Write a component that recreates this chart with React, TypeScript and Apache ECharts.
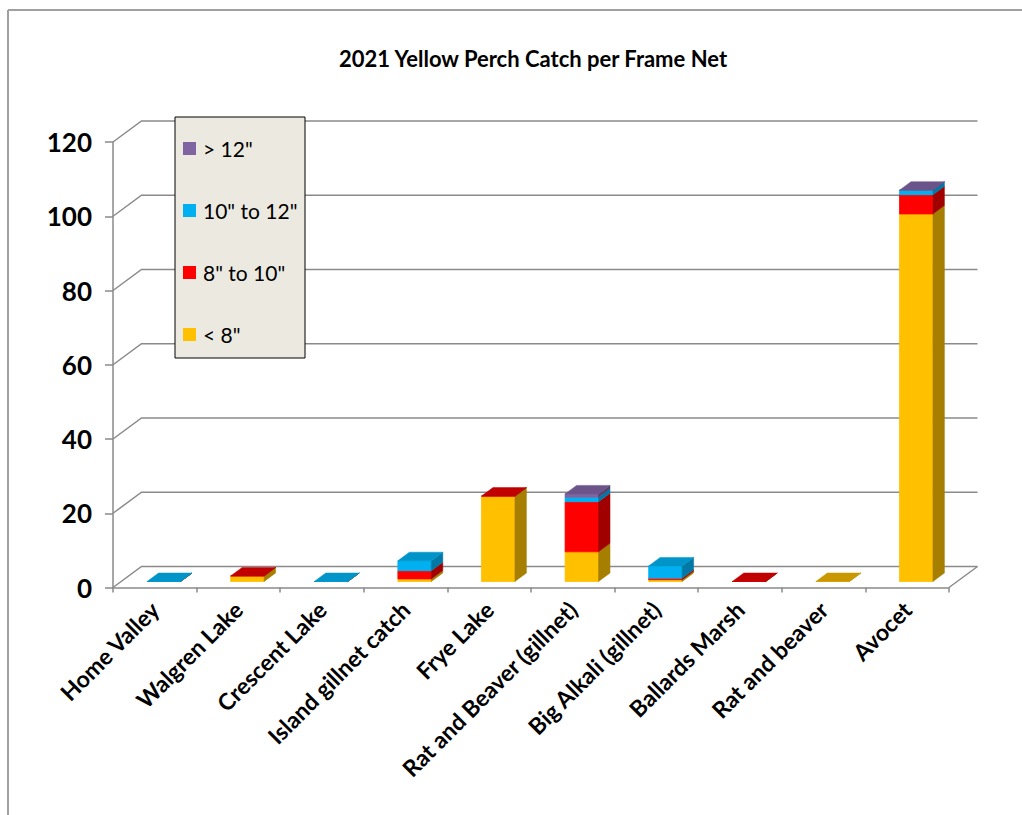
import React, { useEffect, useRef } from 'react';
import * as echarts from 'echarts';

const categories = [
  'Home Valley',
  'Walgren Lake',
  'Crescent Lake',
  'Island gillnet catch',
  'Frye Lake',
  'Rat and Beaver (gillnet)',
  'Big Alkali (gillnet)',
  'Ballards Marsh',
  'Rat and beaver',
  'Avocet',
];
const seriesNames = ['< 8"', '8" to 10"', '10" to 12"', '> 12"'];
const under8 = [0, 1.5, 0, 0.7, 23, 8, 0.5, 0, 0, 99];
const from8to10 = [0, 0, 0, 2.2, 0, 13.5, 0.4, 0, null, 5.2];
const from10to12 = [0, null, 0, 2.7, null, 1.2, 3.3, null, null, 1.2];
const over12 = [null, null, null, null, null, 0.9, null, null, null, 0];
const yTicks = [0, 20, 40, 60, 80, 100, 120];
const legendOrder = ['> 12"', '10" to 12"', '8" to 10"', '< 8"'];

const FONT = 'Lato, "Open Sans", sans-serif';
const GRID_COLOR = '#8a8a8a';
const BACK_DX = 28.5;
const BACK_DY = 21;
const FACE_DX = 9;
const FACE_DY = 6;
const DEPTH_DX = 11.5;
const DEPTH_DY = 8.5;

const palette = [
  { front: '#FFC000', top: '#C99800', side: '#A67E00' },
  { front: '#FF0000', top: '#C00000', side: '#A00000' },
  { front: '#00B0F0', top: '#0094C8', side: '#0079A6' },
  { front: '#8064A2', top: '#6B548A', side: '#54426D' },
];

const allSeries: (number | null)[][] = [under8, from8to10, from10to12, over12];

function buildStack(k: number) {
  const out: number[][] = [];
  for (let i = 0; i < categories.length; i++) {
    const v = allSeries[k][i];
    if (v === null || v === undefined) continue;
    let base = 0;
    for (let j = 0; j < k; j++) {
      const w = allSeries[j][i];
      if (w !== null && w !== undefined) base += w;
    }
    let isTop = 1;
    for (let j = k + 1; j < allSeries.length; j++) {
      const w = allSeries[j][i];
      if (w !== null && w !== undefined) isTop = 0;
    }
    out.push([i, base, base + v, isTop]);
  }
  return out;
}

export default function App() {
  const ref = useRef<HTMLDivElement>(null);
  useEffect(() => {
    if (!ref.current) return;
    const chart = echarts.init(ref.current, null, { renderer: 'svg' });

    const frameSeries: any = {
      type: 'custom',
      name: 'frame',
      silent: true,
      z: 1,
      data: yTicks.map((v) => [0, v]),
      encode: { x: 0, y: 1 },
      renderItem: (params: any, api: any) => {
        const v = api.value(1);
        const p = api.coord([0, v]);
        const band = api.size([1, 0])[0];
        const left = p[0] - band / 2;
        const right = left + band * categories.length;
        const y = p[1];
        const style = { stroke: GRID_COLOR, lineWidth: 1.5, fill: 'none' };
        const children: any[] = [
          {
            type: 'polyline',
            shape: {
              points: [
                [left, y],
                [left + BACK_DX, y - BACK_DY],
                [right + BACK_DX, y - BACK_DY],
              ],
            },
            style,
          },
        ];
        if (v === 0) {
          children.push({
            type: 'line',
            shape: { x1: right, y1: y, x2: right + BACK_DX, y2: y - BACK_DY },
            style,
          });
        }
        return { type: 'group', children };
      },
    };

    const barSeries = seriesNames.map((name, k) => ({
      type: 'custom',
      name,
      z: 2 + k,
      itemStyle: { color: palette[k].front },
      dimensions: ['x', 'y0', 'y1', 'top'],
      encode: { x: 0, y: [1, 2] },
      data: buildStack(k),
      renderItem: (params: any, api: any) => {
        const i = api.value(0);
        const y0 = api.value(1);
        const y1 = api.value(2);
        const isTop = api.value(3);
        const pb = api.coord([i, y0]);
        const pt = api.coord([i, y1]);
        const band = api.size([1, 0])[0];
        const w = band * 0.4;
        const xl = pb[0] - w / 2 + FACE_DX;
        const xr = xl + w;
        const yb = pb[1] - FACE_DY;
        const yt = pt[1] - FACE_DY;
        const c = palette[k];
        const children: any[] = [
          {
            type: 'rect',
            shape: { x: xl, y: yt, width: w, height: yb - yt },
            style: { fill: c.front, stroke: c.front, lineWidth: 0.8 },
          },
          {
            type: 'polygon',
            shape: {
              points: [
                [xr, yb],
                [xr + DEPTH_DX, yb - DEPTH_DY],
                [xr + DEPTH_DX, yt - DEPTH_DY],
                [xr, yt],
              ],
            },
            style: { fill: c.side, stroke: c.side, lineWidth: 0.5 },
          },
        ];
        if (isTop) {
          children.push({
            type: 'polygon',
            shape: {
              points: [
                [xl, yt],
                [xr, yt],
                [xr + DEPTH_DX, yt - DEPTH_DY],
                [xl + DEPTH_DX, yt - DEPTH_DY],
              ],
            },
            style: { fill: c.top, stroke: c.top, lineWidth: 0.5 },
          });
        }
        return { type: 'group', children };
      },
    }));

    chart.setOption({
      animation: false,
      backgroundColor: '#ffffff',
      title: {
        text: '2021 Yellow Perch Catch per Frame Net',
        left: 528,
        top: 42,
        textAlign: 'center',
        textStyle: { fontFamily: FONT, fontWeight: 'bold', fontSize: 22, color: '#000' },
      },
      legend: {
        data: legendOrder,
        orient: 'vertical',
        left: 183,
        top: 138,
        padding: 0,
        itemWidth: 13,
        itemHeight: 13,
        itemGap: 41,
        icon: 'rect',
        selectedMode: false,
        z: 10,
        textStyle: {
          fontFamily: FONT,
          fontSize: 21,
          color: '#000',
          lineHeight: 20,
          padding: [0, 0, 0, 2],
        },
      },
      grid: { left: 113, right: 73, top: 142, bottom: 227.5 },
      xAxis: {
        type: 'category',
        data: categories,
        axisLine: { show: true, lineStyle: { color: GRID_COLOR, width: 1.5 } },
        axisTick: { show: true, length: 5, lineStyle: { color: GRID_COLOR, width: 1.5 } },
        axisLabel: {
          rotate: 45,
          interval: 0,
          margin: 18,
          fontFamily: FONT,
          fontWeight: 'bold',
          fontSize: 23,
          color: '#000',
        },
      },
      yAxis: {
        type: 'value',
        min: 0,
        max: 120,
        interval: 20,
        axisLine: { show: true, lineStyle: { color: GRID_COLOR, width: 1.5 } },
        axisTick: { show: true, length: 8, lineStyle: { color: GRID_COLOR, width: 1.5 } },
        splitLine: { show: false },
        axisLabel: {
          margin: 21,
          fontFamily: FONT,
          fontWeight: 'bold',
          fontSize: 26,
          color: '#000',
        },
      },
      graphic: [
        {
          type: 'line',
          shape: { x1: 8, y1: 10, x2: 1022, y2: 10 },
          style: { stroke: '#a0a0a0', lineWidth: 2 },
          z: 1,
        },
        {
          type: 'line',
          shape: { x1: 8, y1: 10, x2: 8, y2: 815 },
          style: { stroke: '#a0a0a0', lineWidth: 2 },
          z: 1,
        },
        {
          type: 'rect',
          shape: { x: 175, y: 117, width: 130, height: 241 },
          style: { fill: '#ECEAE0', stroke: '#000', lineWidth: 1 },
          z: 8,
        },
      ],
      series: [frameSeries, ...barSeries],
    });
    return () => chart.dispose();
  }, []);
  return (
    <div
      ref={ref}
      style={{ position: 'fixed', left: 0, top: 0, width: 1022, height: 815 }}
    />
  );
}
